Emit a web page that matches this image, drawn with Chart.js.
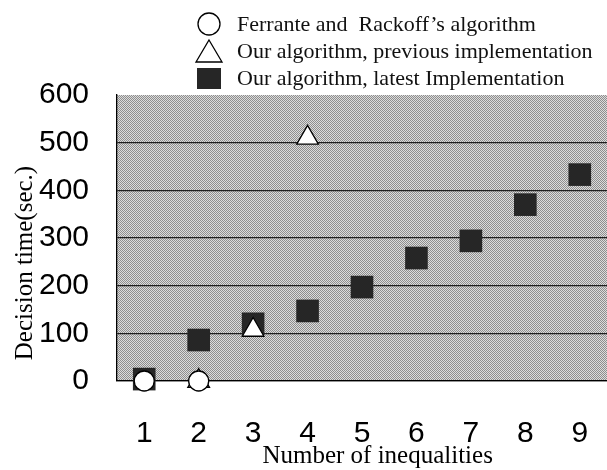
<!DOCTYPE html>
<html>
<head>
<meta charset="utf-8">
<title>Decision time</title>
<script src="https://cdn.jsdelivr.net/npm/chart.js@4.4.1/dist/chart.umd.min.js"></script>
<style>
    body { margin: 0; background: #ffffff; }
    canvas { display: block; }
</style>
</head>
<body>
<canvas id="decisionChart" width="607" height="470"></canvas>
<script>
/* ---------------- Data ---------------- */

const categories = ["1", "2", "3", "4", "5", "6", "7", "8", "9"];

const ferranteValues = [0, 0, null, null, null, null, null, null, null];
const previousValues = [null, 0, 107, 510, null, null, null, null, null];
const latestValues = [4, 86, 120, 147, 197, 258, 294, 370, 433];

const yTicks = [0, 100, 200, 300, 400, 500, 600];

const seriesNames = [
    "Ferrante and  Rackoff\u2019s algorithm",
    "Our algorithm, previous implementation",
    "Our algorithm, latest Implementation"
];

/* ---------------- Stipple background ---------------- */

function makeStipple(dark, light) {
    const c = document.createElement("canvas");
    c.width = 2;
    c.height = 2;
    const g = c.getContext("2d");
    g.fillStyle = light;
    g.fillRect(0, 0, 2, 2);
    g.fillStyle = dark;
    g.fillRect(0, 0, 1, 1);
    g.fillRect(1, 1, 1, 1);
    return g.createPattern(c, "repeat");
}

const ctx = document.getElementById("decisionChart").getContext("2d");
const plotFill = makeStipple("#8e8e8e", "#dcdcdc");

const plotBackground = {
    id: "plotBackground",
    beforeDraw(chart) {
        const a = chart.chartArea;
        const c = chart.ctx;
        c.save();
        c.fillStyle = plotFill;
        c.fillRect(a.left, a.top, a.right - a.left, a.bottom - a.top);
        c.restore();
    }
};

/* ---------------- Stacked legend ---------------- */

const stackedLegend = {
    id: "stackedLegend",
    afterDraw(chart) {
        const c = chart.ctx;
        const mx = 209;
        const tx = 237;
        const rows = [24, 51, 78];
        c.save();
        c.lineWidth = 1.3;
        c.strokeStyle = "#000";

        // circle
        c.beginPath();
        c.arc(mx, rows[0], 11, 0, Math.PI * 2);
        c.fillStyle = "#fff";
        c.fill();
        c.stroke();

        // triangle
        c.beginPath();
        c.moveTo(mx, rows[1] - 11);
        c.lineTo(mx + 13, rows[1] + 11);
        c.lineTo(mx - 13, rows[1] + 11);
        c.closePath();
        c.fill();
        c.stroke();

        // square
        c.fillStyle = "#262626";
        c.fillRect(mx - 12, rows[2] - 10, 24, 21);

        c.fillStyle = "#111";
        c.font = "22px 'Liberation Serif', 'DejaVu Serif', serif";
        c.textBaseline = "middle";
        c.textAlign = "left";
        seriesNames.forEach((name, i) => {
            c.fillText(name, tx, rows[i] + 1);
        });
        c.restore();
    }
};

/* ---------------- Chart ---------------- */

new Chart(ctx, {
    type: "line",
    data: {
        labels: categories,
        datasets: [
            {
                label: seriesNames[0],
                data: ferranteValues,
                showLine: false,
                pointStyle: "circle",
                pointRadius: 10,
                pointBackgroundColor: "#ffffff",
                pointBorderColor: "#000000",
                pointBorderWidth: 1.3,
                clip: false,
                order: 0
            },
            {
                label: seriesNames[1],
                data: previousValues,
                showLine: false,
                pointStyle: "triangle",
                pointRadius: 12.5,
                pointBackgroundColor: "#ffffff",
                pointBorderColor: "#000000",
                pointBorderWidth: 1.3,
                clip: false,
                order: 1
            },
            {
                label: seriesNames[2],
                data: latestValues,
                showLine: false,
                pointStyle: "rect",
                pointRadius: 16,
                pointBackgroundColor: "#262626",
                pointBorderColor: "#262626",
                pointBorderWidth: 0,
                clip: false,
                order: 2
            }
        ]
    },
    options: {
        responsive: false,
        animation: false,
        devicePixelRatio: 1,
        layout: {
            autoPadding: false,
            padding: { top: 95, right: 0, bottom: 0, left: 0 }
        },
        plugins: {
            legend: { display: false },
            tooltip: { enabled: false }
        },
        scales: {
            x: {
                type: "category",
                offset: true,
                grid: { display: false, drawTicks: false },
                border: { display: true, color: "#000", width: 1.3 },
                ticks: {
                    color: "#000",
                    padding: 35,
                    font: { family: "'Liberation Sans', Arial, sans-serif", size: 30 }
                },
                title: {
                    display: true,
                    // leading spaces nudge the centred title to the right, as in the scan
                    text: "     Number of inequalities",
                    color: "#000",
                    padding: { top: 0, bottom: 0 },
                    font: { family: "'Liberation Serif', serif", size: 25, lineHeight: 1.05 }
                },
                afterFit(scale) {
                    scale.height = 89;
                    scale.paddingLeft = 0;
                    scale.paddingRight = 0;
                }
            },
            y: {
                min: 0,
                max: 600,
                afterBuildTicks(scale) {
                    scale.ticks = yTicks.map(v => ({ value: v }));
                },
                grid: {
                    drawTicks: false,
                    lineWidth: 1.2,
                    color: c => (c.tick && c.tick.value === 600 ? "rgba(0,0,0,0)" : "#1e1e1e")
                },
                border: { display: true, color: "#000", width: 1.3 },
                ticks: {
                    color: "#000",
                    padding: 28,
                    font: { family: "'Liberation Sans', Arial, sans-serif", size: 30 }
                },
                title: {
                    display: true,
                    // trailing spaces push the rotated title down a little
                    text: "Decision time(sec.)        ",
                    color: "#000",
                    padding: { top: 12, bottom: 0 },
                    font: { family: "'Liberation Serif', serif", size: 25, lineHeight: 1.05 }
                },
                afterFit(scale) { scale.width = 117; }
            }
        }
    },
    plugins: [plotBackground, stackedLegend]
});
</script>
</body>
</html>
